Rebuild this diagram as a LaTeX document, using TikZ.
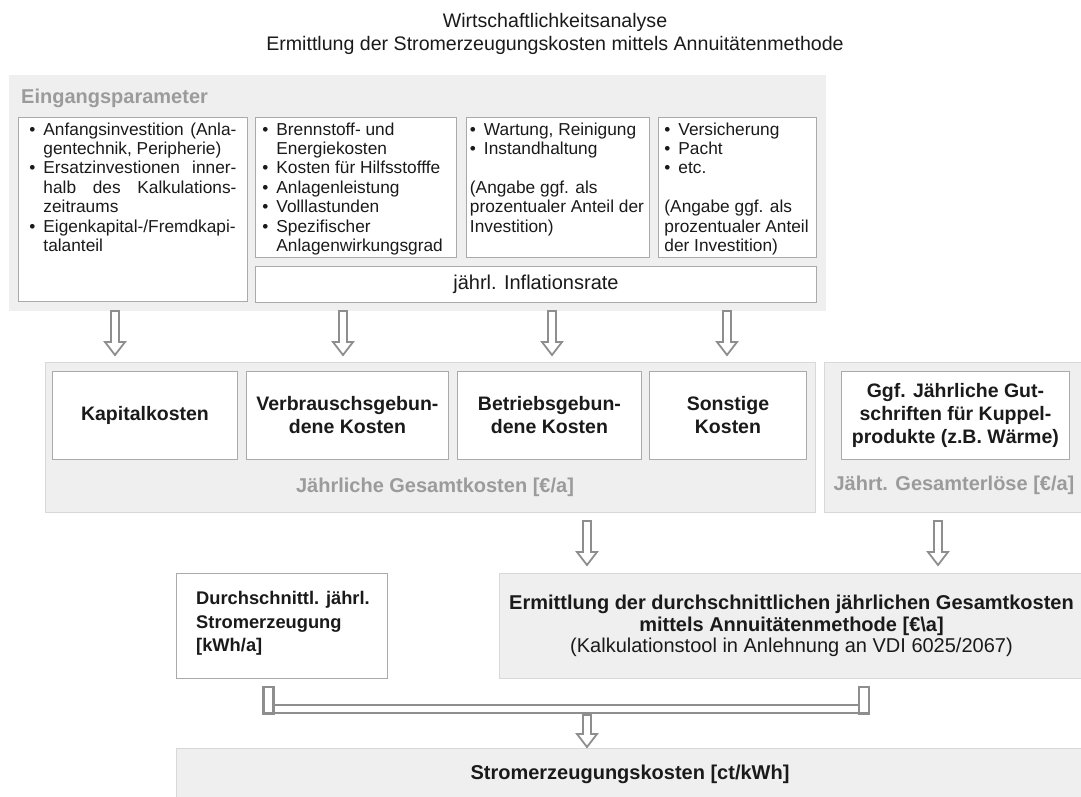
\documentclass[tikz,border=0pt]{standalone}
\usepackage{fontspec}
\setmainfont{Liberation Sans}
\usetikzlibrary{calc}
\definecolor{panelfill}{RGB}{239,239,239}
\definecolor{panelline}{RGB}{216,216,216}
\definecolor{boxline}{RGB}{170,170,170}
\definecolor{arrgray}{RGB}{142,142,142}
\definecolor{labgray}{RGB}{155,155,155}
\definecolor{txt}{RGB}{26,26,26}
\newcommand{\bodyfont}{\fontsize{17.3}{19.4}\selectfont}
\newcommand{\bul}[1]{\par\hangindent=14pt\hangafter=1\noindent\makebox[14pt][l]{\strut\textbullet}#1\par}

\begin{document}
\begin{tikzpicture}[x=1pt, y=-1pt,
  panel/.style={fill=panelfill, draw=panelline, line width=1pt, inner sep=0pt},
  box/.style={fill=white, draw=boxline, line width=0.9pt, text=txt},
  kbox/.style={box, font=\bfseries\fontsize{19.5}{23}\selectfont, align=center, minimum height=88pt, anchor=north west},
  grlabel/.style={text=labgray, font=\bfseries\fontsize{20}{24}\selectfont},
  hollow/.style={draw=arrgray, line width=1.8pt, fill=white,
    to path={let \p1=(\tikztostart), \p2=(\tikztotarget) in
      (\x1-4pt,\y1) -- (\x1-4pt,\y2+13pt) -- (\x1-10pt,\y2+13pt) -- (\x1,\y2)
      -- (\x1+10pt,\y2+13pt) -- (\x1+4pt,\y2+13pt) -- (\x1+4pt,\y1) -- cycle}},
  pipe/.style={draw=arrgray, line width=2.5pt}]
\useasboundingbox (0,0) rectangle (1081,796);

\node[text=txt, align=center, font=\fontsize{19.6}{23.5}\selectfont] (title) at (555,33.7)
  {Wirtschaftlichkeitsanalyse\\Ermittlung der Stromerzeugungskosten mittels Annuitätenmethode};

\node[panel, draw=none, anchor=north west, minimum width=817pt, minimum height=236pt] (ein) at (8,74) {};
\node[grlabel, anchor=base west, inner sep=0pt] (einlab) at (21,103) {Eingangsparameter};

\node[box, anchor=north west, inner xsep=11pt, inner ysep=4pt] (anf) at (18,117) {\parbox[t][176pt][t]{207pt}{\bodyfont
  \bul{Anfangsinvestition (Anla-\linebreak gentechnik, Peripherie)}
  \bul{Ersatzinvestionen inner-\linebreak halb des Kalkulations-\linebreak zeitraums}
  \bul{Eigenkapital-/Fremdkapi-\linebreak talanteil}}};
\node[box, anchor=north west, inner xsep=7pt, inner ysep=4pt] (bren) at (255,117) {\parbox[t][132pt][t]{187pt}{\bodyfont\raggedright
  \bul{Brennstoff- und\newline Energiekosten}
  \bul{Kosten für Hilfsstofffe}
  \bul{Anlagenleistung}
  \bul{Volllastunden}
  \bul{Spezifischer\newline Anlagenwirkungsgrad}}};
\node[box, anchor=north west, inner xsep=3.5pt, inner ysep=4pt] (wart) at (466,117) {\parbox[t][132pt][t]{176pt}{\bodyfont\raggedright
  \bul{Wartung, Reinigung}
  \bul{Instandhaltung}
  \vspace{19.4pt}
  (Angabe ggf. als\\prozentualer Anteil der\\Investition)}};
\node[box, anchor=north west, inner xsep=6pt, inner ysep=4pt] (vers) at (658,117) {\parbox[t][132pt][t]{146pt}{\bodyfont\raggedright
  \bul{Versicherung}
  \bul{Pacht}
  \bul{etc.}
  \vspace{19.4pt}
  (Angabe ggf. als\\prozentualer Anteil\\der Investition)}};
\node[box, anchor=north west, minimum width=561pt, minimum height=36pt, font=\fontsize{20}{24}\selectfont] (infl) at (255,266) {jährl. Inflationsrate};

\node[panel, anchor=north west, minimum width=770pt, minimum height=150pt] (ges) at (45,362) {};
\node[kbox, minimum width=185pt] (kap) at (52,371) {Kapitalkosten};
\node[kbox, minimum width=202pt] (verb) at (246,371) {Verbrauschsgebun-\\dene Kosten};
\node[kbox, minimum width=184pt] (betr) at (457,371) {Betriebsgebun-\\dene Kosten};
\node[kbox, minimum width=157pt] (sonst) at (649,371) {Sonstige\\Kosten};
\node[grlabel] (geslab) at (435,487) {Jährliche Gesamtkosten [€/a]};

\node[panel, anchor=north west, minimum width=259pt, minimum height=150pt] (erl) at (824,362) {};
\node[kbox, minimum width=228pt] (gut) at (841,371) {Ggf. Jährliche Gut-\\schriften für Kuppel-\\produkte (z.B. Wärme)};
\node[grlabel] (erllab) at (954,485) {Jährt. Gesamterlöse [€/a]};

\coordinate (a1) at (115,0);
\coordinate (a2) at (343,0);
\coordinate (a3) at (552,0);
\coordinate (a4) at (727,0);
\draw[hollow] (a1 |- ein.south) to ($(a1 |- ges.north)+(0,-7)$);
\draw[hollow] (a2 |- ein.south) to ($(a2 |- ges.north)+(0,-7)$);
\draw[hollow] (a3 |- ein.south) to ($(a3 |- ges.north)+(0,-7)$);
\draw[hollow] (a4 |- ein.south) to ($(a4 |- ges.north)+(0,-7)$);

\node[box, anchor=north west, minimum width=211pt, minimum height=105pt] (durch) at (176,573) {};
\node[anchor=north west, align=left, inner sep=0pt, text=txt, font=\bfseries\fontsize{18.3}{23.5}\selectfont] (durchtxt)
  at ($(durch.north west)+(20,18.5)$) {Durchschnittl. jährl.\\Stromerzeugung\\{}[kWh/a]};
\node[panel, anchor=north west, minimum width=584pt, minimum height=105pt, align=center, text=txt,
  font=\fontsize{20}{21.5}\selectfont] (ermb) at (499,573)
  {\textbf{Ermittlung der durchschnittlichen jährlichen Gesamtkosten}\\\textbf{mittels Annuitätenmethode [€\textbackslash a]}\\(Kalkulationstool in Anlehnung an VDI 6025/2067)};
\node[panel, anchor=north west, minimum width=907pt, minimum height=52pt, text=txt,
  font=\bfseries\fontsize{20}{24}\selectfont] (strom) at (176,748) {Stromerzeugungskosten [ct/kWh]};

\coordinate (m1) at (587,0);
\coordinate (m2) at (938,0);
\draw[hollow] ($(m1 |- ges.south)+(0,8)$) to ($(m1 |- ermb.north)+(0,-8)$);
\draw[hollow] ($(m2 |- erl.south)+(0,8)$) to ($(m2 |- ermb.north)+(0,-8)$);

\coordinate (jl) at (268.5,709);
\coordinate (jr) at (864,709);
\coordinate (pm) at (587,715);
\draw[pipe, double=white, double distance=5.5pt] (jl) -- (jr);
\draw[pipe, fill=white] ($(jl)+(-5,-22)$) rectangle ($(jl)+(5,4.5)$);
\draw[pipe, fill=white] ($(jr)+(-5,-22)$) rectangle ($(jr)+(5,4.5)$);
\draw[hollow] (pm) to ($(pm |- strom.north)+(0,-1)$);
\end{tikzpicture}
\end{document}
